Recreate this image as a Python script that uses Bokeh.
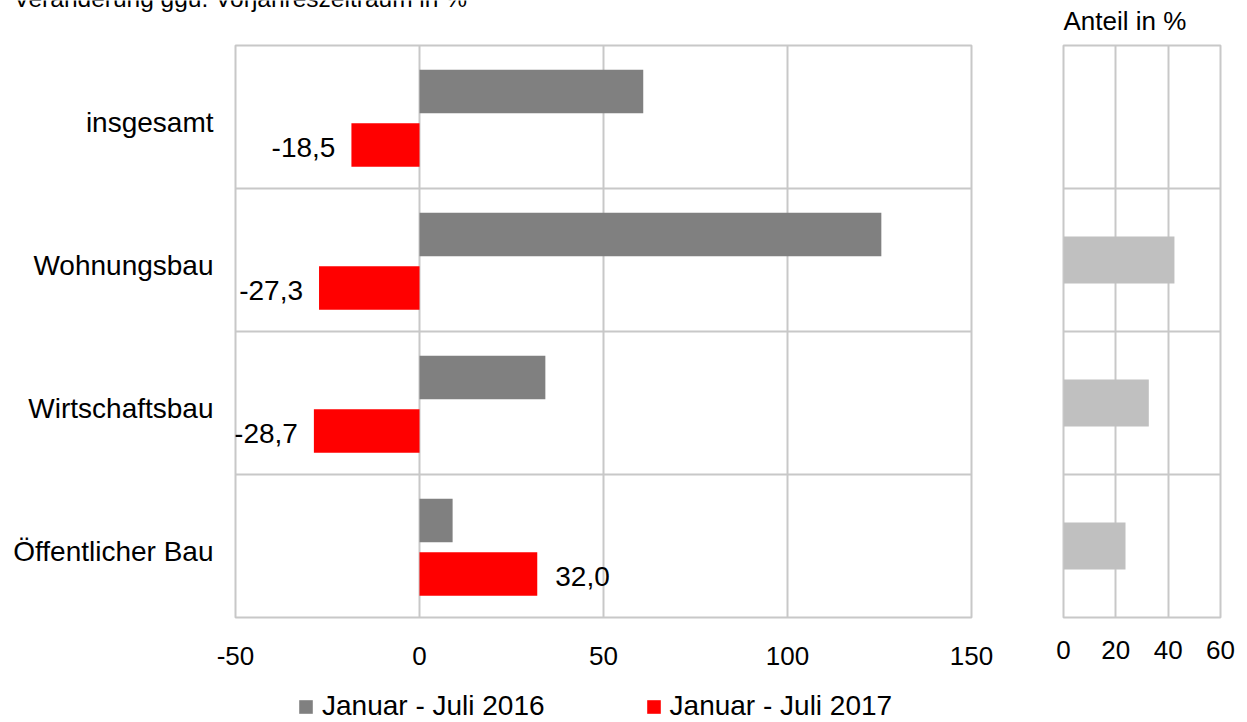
from bokeh.plotting import figure
from bokeh.models import (ColumnDataSource, FixedTicker, Legend, LegendItem,
                          LabelSet, Range1d)
from bokeh.layouts import row, column
from bokeh.core.properties import value
from bokeh.embed import file_html
from bokeh.resources import INLINE

# ---------------- data ----------------
categories = ["insgesamt", "Wohnungsbau", "Wirtschaftsbau", "Öffentlicher Bau"]
change_2016 = [60.8, 125.5, 34.2, 9.0]
change_2017 = [-18.5, -27.3, -28.7, 32.0]
share = [None, 42.4, 32.6, 23.7]          # Anteil in %
series_names = ["Januar - Juli 2016", "Januar - Juli 2017"]
x_ticks_main = [-50, 0, 50, 100, 150]
x_ticks_share = [0, 20, 40, 60]
title_main = "Veränderung ggü. Vorjahreszeitraum in %"
title_share = "Anteil in %"

# ---------------- style ----------------
FONT = "Liberation Sans"
GRID = "#c8c8c8"
GRAY = "#808080"
RED = "#ff0000"
LIGHT = "#c0c0c0"
W_MAIN, W_SHARE = 1040, 200
H_TOP, H_MID, H_LEG = 38, 642, 42

n = len(categories)
centers = [n - i - 0.5 for i in range(n)]


def fmt(v):
    return f"{v:.1f}".replace(".", ",")


def no_title(p):
    try:
        p.title = None
    except Exception:
        p.title.visible = False
        p.title.standoff = 0


def bare(p):
    p.outline_line_color = None
    p.axis.visible = False
    p.grid.visible = False
    p.background_fill_color = "white"
    p.border_fill_color = "white"


def fig(**kw):
    p = figure(output_backend="svg", toolbar_location=None, **kw)
    no_title(p)
    return p


def style_axis(ax, size, standoff):
    ax.axis_line_color = None
    ax.major_tick_line_color = None
    ax.minor_tick_line_color = None
    ax.major_tick_out = 0
    ax.major_tick_in = 0
    ax.minor_tick_out = 0
    ax.minor_tick_in = 0
    ax.major_label_text_font = FONT
    ax.major_label_text_color = "black"
    ax.major_label_text_font_size = size
    ax.major_label_standoff = standoff


# ---------------- title strip ----------------
pt = fig(width=W_MAIN + W_SHARE, height=H_TOP,
         x_range=Range1d(0, W_MAIN + W_SHARE), y_range=Range1d(H_TOP, 0),
         min_border=0, min_border_left=0, min_border_right=0,
         min_border_top=0, min_border_bottom=0)
bare(pt)
pt.text(x=[13], y=[-2], text=[title_main], text_font=value(FONT),
        text_font_size="24.5px", text_baseline="alphabetic", text_color="black")
pt.text(x=[1063], y=[20], text=[title_share], text_font=value(FONT),
        text_font_size="26px", text_baseline="alphabetic", text_color="black")

# ---------------- main figure ----------------
OFF16, OFF17 = 0.178, -0.196
src = ColumnDataSource(dict(
    cat=categories,
    y16=[c + OFF16 for c in centers],
    y17=[c + OFF17 for c in centers],
    v16=change_2016,
    v17=change_2017,
))
neg = [(v, c + OFF17 - 0.018) for v, c in zip(change_2017, centers) if v < 0]
pos = [(v, c + OFF17 - 0.018) for v, c in zip(change_2017, centers) if v >= 0]
src_neg = ColumnDataSource(dict(x=[a for a, _ in neg], y=[b for _, b in neg],
                                t=[fmt(a) for a, _ in neg]))
src_pos = ColumnDataSource(dict(x=[a for a, _ in pos], y=[b for _, b in pos],
                                t=[fmt(a) for a, _ in pos]))

p1 = fig(width=W_MAIN, height=H_MID,
         x_range=Range1d(x_ticks_main[0], x_ticks_main[-1]),
         y_range=Range1d(0, n),
         min_border_left=235, min_border_right=69,
         min_border_top=7, min_border_bottom=63)
p1.background_fill_color = "white"
p1.border_fill_color = "white"
p1.outline_line_color = GRID
p1.outline_line_width = 2

p1.hbar(y="y16", left=0, right="v16", height=0.305, source=src,
        fill_color=GRAY, line_color=None)
p1.hbar(y="y17", left=0, right="v17", height=0.305, source=src,
        fill_color=RED, line_color=None)

p1.xaxis.ticker = FixedTicker(ticks=x_ticks_main)
p1.xaxis.major_label_overrides = {t: str(t) for t in x_ticks_main}
p1.xgrid.ticker = FixedTicker(ticks=x_ticks_main)
p1.xgrid.grid_line_color = GRID
p1.xgrid.grid_line_width = 2
ytick_pos = [c - 0.04 for c in centers]
p1.yaxis.ticker = FixedTicker(ticks=ytick_pos)
p1.yaxis.major_label_overrides = {t: cat for t, cat in zip(ytick_pos, categories)}
p1.ygrid.ticker = FixedTicker(ticks=list(range(1, n)))
p1.ygrid.grid_line_color = GRID
p1.ygrid.grid_line_width = 2

style_axis(p1.xaxis[0], "26px", 29)
style_axis(p1.yaxis[0], "28px", 22)

p1.add_layout(LabelSet(x="x", y="y", text="t", source=src_neg, x_offset=-16,
                       text_align="right", text_baseline="middle",
                       text_font=value(FONT), text_font_size="28px",
                       text_color="black"))
p1.add_layout(LabelSet(x="x", y="y", text="t", source=src_pos, x_offset=18,
                       text_align="left", text_baseline="middle",
                       text_font=value(FONT), text_font_size="28px",
                       text_color="black"))

# ---------------- share figure ----------------
sh_y = [c for c, s in zip(centers, share) if s is not None]
sh_v = [s for s in share if s is not None]
src_sh = ColumnDataSource(dict(y=sh_y, v=sh_v))

p2 = fig(width=W_SHARE, height=H_MID,
         x_range=Range1d(x_ticks_share[0], x_ticks_share[-1]),
         y_range=Range1d(0, n),
         min_border_left=23, min_border_right=20,
         min_border_top=7, min_border_bottom=63)
p2.background_fill_color = "white"
p2.border_fill_color = "white"
p2.outline_line_color = GRID
p2.outline_line_width = 2
p2.hbar(y="y", left=0, right="v", height=0.33, source=src_sh,
        fill_color=LIGHT, line_color=None)
p2.xaxis.ticker = FixedTicker(ticks=x_ticks_share)
p2.xgrid.ticker = FixedTicker(ticks=x_ticks_share)
p2.xgrid.grid_line_color = GRID
p2.xgrid.grid_line_width = 2
p2.ygrid.ticker = FixedTicker(ticks=list(range(1, n)))
p2.ygrid.grid_line_color = GRID
p2.ygrid.grid_line_width = 2
p2.yaxis.visible = False
style_axis(p2.xaxis[0], "26px", 23)

# ---------------- legend strip ----------------
pl = fig(width=W_MAIN + W_SHARE, height=H_LEG,
         x_range=Range1d(0, 1), y_range=Range1d(0, 1),
         min_border=0, min_border_left=0, min_border_right=0,
         min_border_top=0, min_border_bottom=0)
bare(pl)
# zero-width swatch renderers (nothing visible) that only feed the legend
sw16 = pl.hbar(y=[0.5], left=[0], right=[0], height=0.1,
               fill_color=GRAY, line_color=None)
sw17 = pl.hbar(y=[0.5], left=[0], right=[0], height=0.1,
               fill_color=RED, line_color=None)
legend = Legend(items=[LegendItem(label=series_names[0], renderers=[sw16]),
                       LegendItem(label=series_names[1], renderers=[sw17])],
                orientation="horizontal", location=(297, 0),
                glyph_width=17, glyph_height=17, label_standoff=8,
                spacing=100, padding=0, margin=0,
                label_text_font=FONT, label_text_font_size="28px",
                label_text_color="black",
                border_line_color=None, background_fill_alpha=0)
pl.add_layout(legend, "center")

layout = column(pt, row(p1, p2), pl)

open("out.html", "w").write(file_html(layout, INLINE))
